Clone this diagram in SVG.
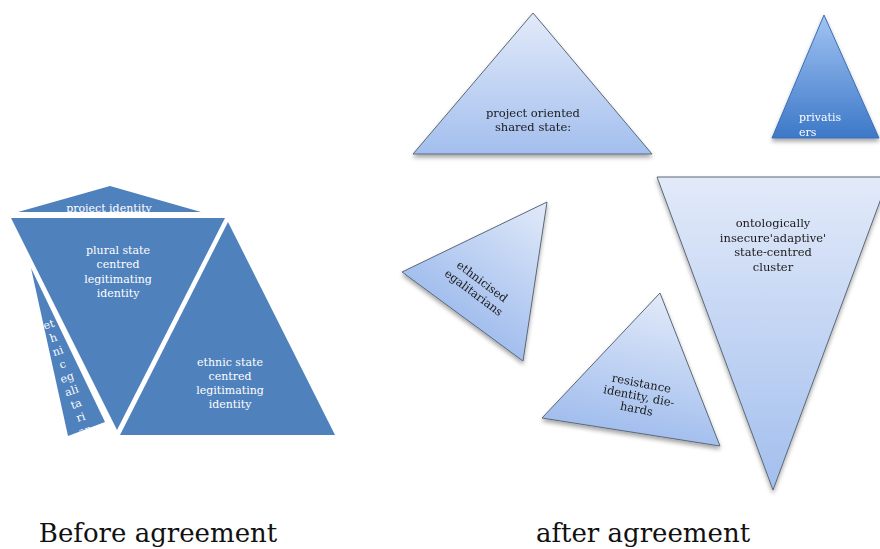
<svg xmlns="http://www.w3.org/2000/svg" width="880" height="549" viewBox="0 0 880 549">
<defs>
<style>
.solid{fill:#4f81bd;}
.wt{font-family:"DejaVu Serif","Liberation Serif",serif;font-size:11px;fill:#ffffff;text-anchor:middle;}
.dt{font-family:"DejaVu Serif","Liberation Serif",serif;font-size:11.5px;fill:#1a1a1a;text-anchor:middle;}
.lt{stroke:#5b6878;stroke-width:1;}
.cap{font-family:"DejaVu Serif","Liberation Serif",serif;font-size:26px;fill:#111111;text-anchor:middle;}
</style>
<linearGradient id="gLight" x1="0" y1="0" x2="0" y2="1">
<stop offset="0" stop-color="#e2eaf9"/>
<stop offset="1" stop-color="#a3bfee"/>
</linearGradient>
<linearGradient id="gDark" x1="0" y1="0" x2="0" y2="1">
<stop offset="0" stop-color="#a2c4f3"/>
<stop offset="1" stop-color="#3c78c8"/>
</linearGradient>
<linearGradient id="gEth" gradientUnits="userSpaceOnUse" x1="545" y1="201" x2="462" y2="316">
<stop offset="0" stop-color="#e2eaf9"/>
<stop offset="1" stop-color="#a3bfee"/>
</linearGradient>
<linearGradient id="gRes" gradientUnits="userSpaceOnUse" x1="660" y1="293" x2="631" y2="432">
<stop offset="0" stop-color="#e2eaf9"/>
<stop offset="1" stop-color="#a3bfee"/>
</linearGradient>
<filter id="sh" x="-20%" y="-20%" width="140%" height="150%">
<feDropShadow dx="0" dy="3" stdDeviation="2" flood-color="#000000" flood-opacity="0.35"/>
</filter>
<clipPath id="cpProj"><polygon points="110,186 18,212 201,212"/></clipPath>
<clipPath id="cpSliver"><polygon points="31,268 105,422 68,436"/></clipPath>
</defs>

<g id="before">
<g id="node-project-identity">
<polygon class="solid" points="110,186 18,212 201,212"/>
<text class="wt" x="109" y="212" clip-path="url(#cpProj)">project identity</text>
</g>
<g id="node-ethnic-egalitarians-sliver">
<polygon class="solid" points="31,268 105,422 68,436"/>
<g clip-path="url(#cpSliver)">
<g transform="translate(50,328) rotate(-19)">
<text class="wt" x="0" y="0">et</text>
<text class="wt" x="0" y="14">h</text>
<text class="wt" x="0" y="28">ni</text>
<text class="wt" x="0" y="42">c</text>
<text class="wt" x="0" y="56">eg</text>
<text class="wt" x="0" y="70">ali</text>
<text class="wt" x="0" y="84">ta</text>
<text class="wt" x="0" y="98">ri</text>
<text class="wt" x="0" y="112">an</text>
</g>
</g>
</g>
<g id="node-plural-state">
<polygon class="solid" points="11,218 225,218 117,430"/>
<text class="wt" x="118" y="254">plural state</text>
<text class="wt" x="118" y="268">centred</text>
<text class="wt" x="118" y="283">legitimating</text>
<text class="wt" x="118" y="297">identity</text>
</g>
<g id="node-ethnic-state">
<polygon class="solid" points="228,222 120,435 335,435"/>
<text class="wt" x="230" y="366">ethnic state</text>
<text class="wt" x="230" y="380">centred</text>
<text class="wt" x="230" y="394">legitimating</text>
<text class="wt" x="230" y="408">identity</text>
</g>
</g>

<g id="after">
<g id="node-project-oriented" filter="url(#sh)">
<polygon class="lt" fill="url(#gLight)" points="533,13 413,154 652,154"/>
<text class="dt" x="533" y="117">project oriented</text>
<text class="dt" x="533" y="131">shared state:</text>
</g>
<g id="node-privatisers" filter="url(#sh)">
<polygon fill="url(#gDark)" stroke="#3a6fb5" stroke-width="1" points="824,15 772,138 879,138"/>
<text class="wt" x="799" y="121" style="text-anchor:start">privatis</text>
<text class="wt" x="799" y="136" style="text-anchor:start">ers</text>
</g>
<g id="node-ontological" filter="url(#sh)">
<polygon class="lt" fill="url(#gLight)" points="657,177 889,177 773,490"/>
<text class="dt" x="773" y="227">ontologically</text>
<text class="dt" x="773" y="242">insecure'adaptive'</text>
<text class="dt" x="773" y="256">state-centred</text>
<text class="dt" x="773" y="271">cluster</text>
</g>
<g id="node-ethnicised" filter="url(#sh)">
<polygon class="lt" fill="url(#gEth)" points="547,202 402,272 523,361"/>
<g transform="translate(478,287) rotate(37)">
<text class="dt" x="0" y="-3">ethnicised</text>
<text class="dt" x="0" y="11">egalitarians</text>
</g>
</g>
<g id="node-resistance" filter="url(#sh)">
<polygon class="lt" fill="url(#gRes)" points="660,293 542,418 720,446"/>
<g transform="translate(639,396) rotate(11)">
<text class="dt" x="0" y="-9">resistance</text>
<text class="dt" x="0" y="4">identity, die-</text>
<text class="dt" x="0" y="17">hards</text>
</g>
</g>
</g>

<g id="connectors"></g>

<text class="cap" x="158" y="542">Before agreement</text>
<text class="cap" x="643" y="542">after agreement</text>
</svg>
